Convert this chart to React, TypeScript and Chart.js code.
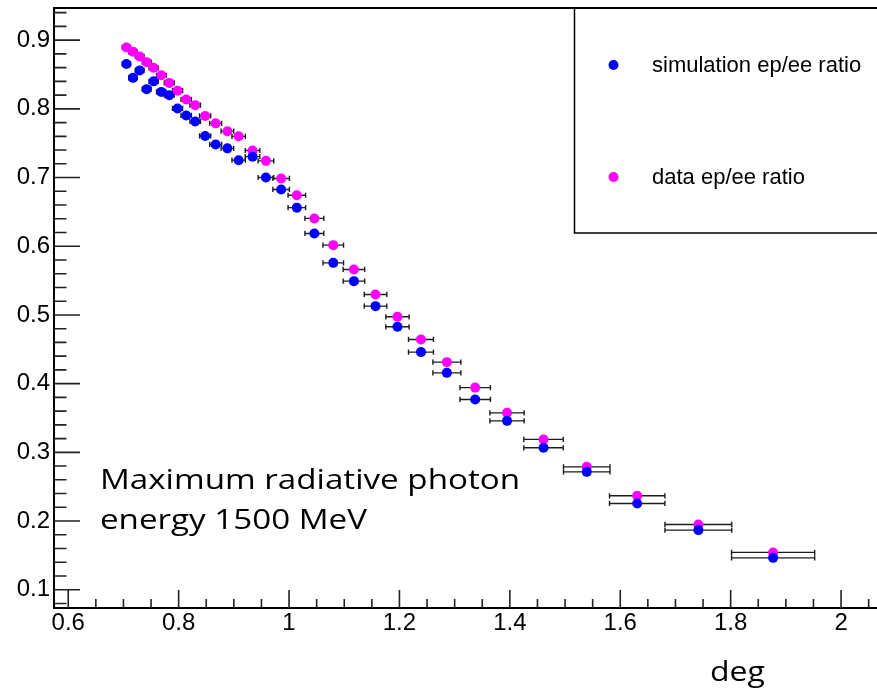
import React, { useEffect, useRef } from "react";
import { Chart, registerables } from "chart.js";

Chart.register(...registerables);

// ---- data ----
const X_CENTERS = [
  0.7054, 0.7173, 0.7294, 0.7421, 0.7547, 0.7686, 0.783, 0.798, 0.8137, 0.83,
  0.848, 0.8671, 0.8883, 0.9087, 0.9339, 0.9581, 0.9857, 1.0141, 1.0459, 1.0801,
  1.1175, 1.1567, 1.1964, 1.239, 1.2859, 1.3372, 1.3949, 1.461, 1.5393, 1.6307,
  1.7415, 1.8769,
];
const X_ERRORS = [
  0.0076, 0.0078, 0.0079, 0.0081, 0.0083, 0.0087, 0.009, 0.0092, 0.0094, 0.0096,
  0.0101, 0.0108, 0.0114, 0.0121, 0.0132, 0.0141, 0.015, 0.0159, 0.0171, 0.0186,
  0.0195, 0.0204, 0.0211, 0.0226, 0.0253, 0.0276, 0.031, 0.0357, 0.0421, 0.0502,
  0.0605, 0.0753,
];
const SIM_RATIO = [
  0.8654, 0.8451, 0.856, 0.8287, 0.84, 0.8247, 0.8199, 0.8006, 0.7904, 0.7817,
  0.7606, 0.7482, 0.7425, 0.7253, 0.7304, 0.7001, 0.6827, 0.6562, 0.6186, 0.5758,
  0.5492, 0.5128, 0.4827, 0.4459, 0.4157, 0.377, 0.3458, 0.3066, 0.2716, 0.2256,
  0.1868, 0.1464,
];
const DATA_RATIO = [
  0.8894, 0.883, 0.8763, 0.868, 0.8597, 0.8488, 0.8378, 0.8265, 0.8137, 0.8054,
  0.7897, 0.7789, 0.7675, 0.76, 0.7394, 0.7243, 0.6987, 0.6742, 0.6405, 0.6016,
  0.5662, 0.5298, 0.4973, 0.4643, 0.4313, 0.3942, 0.3575, 0.3188, 0.2789, 0.2367,
  0.195, 0.1543,
];
const SERIES_LABELS = ["simulation ep/ee ratio", "data ep/ee ratio"];
const SERIES_COLORS = ["#0000ff", "#ff00ff"];
const X_TICKS = [0.6, 0.8, 1, 1.2, 1.4, 1.6, 1.8, 2];
const Y_TICKS = [0.1, 0.2, 0.3, 0.4, 0.5, 0.6, 0.7, 0.8, 0.9];
const X_TITLE = "deg";
const NOTE_LINES = ["Maximum radiative photon", "energy 1500 MeV"];

const X_MIN = 0.5742;
const X_MAX = 2.0796;
const Y_MIN = 0.0734;
const Y_MAX = 0.9468;
const X_MINOR_STEP = 0.05;
const Y_MINOR_STEP = 0.02;

const TICK_FONT = "'Liberation Sans', Arial, Helvetica, sans-serif";
const NOTE_FONT = "'Open Sans', Lato, sans-serif";

function minorValues(min: number, max: number, step: number): number[] {
  const out: number[] = [];
  const start = Math.ceil(min / step - 1e-9);
  for (let i = start; i * step <= max + 1e-9; i++) out.push(+(i * step).toFixed(4));
  return out;
}

const rootStyle = {
  id: "rootStyle",
  beforeDatasetsDraw(chart: any) {
    const ctx = chart.ctx as CanvasRenderingContext2D;
    const xs = chart.scales.x;
    const ys = chart.scales.y;
    ctx.save();
    ctx.strokeStyle = "#1c1c1c";
    ctx.lineWidth = 1.4;
    chart.data.datasets.forEach((ds: any) => {
      ds.data.forEach((p: any) => {
        const x1 = xs.getPixelForValue(p.x - p.ex);
        const x2 = xs.getPixelForValue(p.x + p.ex);
        const y = ys.getPixelForValue(p.y);
        ctx.beginPath();
        ctx.moveTo(x1, y);
        ctx.lineTo(x2, y);
        ctx.moveTo(x1, y - 2.6);
        ctx.lineTo(x1, y + 2.6);
        ctx.moveTo(x2, y - 2.6);
        ctx.lineTo(x2, y + 2.6);
        ctx.stroke();
      });
    });
    ctx.restore();
  },
  afterDraw(chart: any) {
    const ctx = chart.ctx as CanvasRenderingContext2D;
    const xs = chart.scales.x;
    const ys = chart.scales.y;
    const a = chart.chartArea;
    ctx.save();
    // frame
    ctx.strokeStyle = "#000";
    ctx.lineWidth = 2;
    ctx.strokeRect(a.left, a.top, a.right - a.left, a.bottom - a.top);

    // ticks (inward, ROOT style)
    ctx.lineWidth = 1.6;
    ctx.strokeStyle = "#222";
    ctx.beginPath();
    minorValues(Y_MIN, Y_MAX, Y_MINOR_STEP).forEach((v) => {
      const y = ys.getPixelForValue(v);
      ctx.moveTo(a.left, y);
      ctx.lineTo(a.left + 12.5, y);
    });
    Y_TICKS.forEach((v) => {
      const y = ys.getPixelForValue(v);
      ctx.moveTo(a.left, y);
      ctx.lineTo(a.left + 26, y);
    });
    minorValues(X_MIN, X_MAX, X_MINOR_STEP).forEach((v) => {
      const x = xs.getPixelForValue(v);
      ctx.moveTo(x, a.bottom);
      ctx.lineTo(x, a.bottom - 9);
    });
    X_TICKS.forEach((v) => {
      const x = xs.getPixelForValue(v);
      ctx.moveTo(x, a.bottom);
      ctx.lineTo(x, a.bottom - 18);
    });
    ctx.stroke();

    // legend box
    const lx = 574.5;
    const lb = 233;
    ctx.strokeStyle = "#000";
    ctx.lineWidth = 1.5;
    ctx.strokeRect(lx, a.top, chart.width + 10 - lx, lb - a.top);
    const entryY = [65, 177];
    chart.data.datasets.forEach((ds: any, i: number) => {
      ctx.fillStyle = ds.backgroundColor;
      ctx.beginPath();
      ctx.arc(613.5, entryY[i], 5, 0, Math.PI * 2);
      ctx.fill();
      ctx.fillStyle = "#000";
      ctx.font = `22px ${TICK_FONT}`;
      ctx.textBaseline = "alphabetic";
      ctx.textAlign = "left";
      ctx.fillText(ds.label, 652, entryY[i] + 6.5);
    });

    // annotation text (slightly wide lettering, as in the reference)
    ctx.fillStyle = "#000";
    ctx.textAlign = "left";
    ctx.textBaseline = "alphabetic";
    ctx.font = `28px ${NOTE_FONT}`;
    const w2 = ctx.measureText(NOTE_LINES[1]).width;
    const sx = 267 / w2;
    const w1 = ctx.measureText(NOTE_LINES[0]).width;
    const extra = Math.max(0, (413 / sx - w1) / 2);
    ctx.save();
    ctx.translate(100, 488.5);
    ctx.scale(sx, 1);
    (ctx as any).wordSpacing = `${extra.toFixed(1)}px`;
    ctx.fillText(NOTE_LINES[0], 0, 0);
    (ctx as any).wordSpacing = "0px";
    ctx.restore();
    ctx.save();
    ctx.translate(100, 529);
    ctx.scale(sx, 1);
    ctx.fillText(NOTE_LINES[1], 0, 0);
    ctx.restore();

    // axis title
    ctx.save();
    ctx.font = `27px ${NOTE_FONT}`;
    ctx.textAlign = "center";
    ctx.translate(737.5, 680.5);
    ctx.scale(sx, 1);
    ctx.fillText(X_TITLE, 0, 0);
    ctx.restore();
    ctx.restore();
  },
};

export default function App() {
  const ref = useRef<HTMLCanvasElement>(null);
  useEffect(() => {
    if (!ref.current) return;
    const sim = X_CENTERS.map((x, i) => ({ x, y: SIM_RATIO[i], ex: X_ERRORS[i] }));
    const dat = X_CENTERS.map((x, i) => ({ x, y: DATA_RATIO[i], ex: X_ERRORS[i] }));
    const chart = new Chart(ref.current, {
      type: "scatter",
      data: {
        datasets: [
          {
            label: SERIES_LABELS[0],
            data: sim,
            backgroundColor: SERIES_COLORS[0],
            borderColor: SERIES_COLORS[0],
            pointRadius: 5,
            borderWidth: 0,
          },
          {
            label: SERIES_LABELS[1],
            data: dat,
            backgroundColor: SERIES_COLORS[1],
            borderColor: SERIES_COLORS[1],
            pointRadius: 5,
            borderWidth: 0,
          },
        ],
      },
      options: {
        responsive: false,
        maintainAspectRatio: false,
        devicePixelRatio: 1,
        animation: false,
        layout: { padding: { top: 8, right: 2, left: 0, bottom: 0 } },
        plugins: { legend: { display: false }, tooltip: { enabled: false } },
        scales: {
          x: {
            type: "linear",
            position: "bottom",
            min: X_MIN,
            max: X_MAX,
            grid: { display: false, drawTicks: false },
            border: { display: false },
            ticks: {
              color: "#000",
              font: { family: TICK_FONT, size: 24 },
              padding: 1,
              maxRotation: 0,
              autoSkip: false,
              callback: (v: any) => String(Math.round(Number(v) * 10) / 10),
            },
            afterBuildTicks: (s: any) => {
              s.ticks = X_TICKS.map((v) => ({ value: v }));
            },
            afterFit: (s: any) => {
              s.height = 85;
              s.paddingLeft = 0;
              s.paddingRight = 0;
            },
          },
          y: {
            type: "linear",
            min: Y_MIN,
            max: Y_MAX,
            grid: { display: false, drawTicks: false },
            border: { display: false },
            ticks: {
              color: "#000",
              font: { family: TICK_FONT, size: 24 },
              padding: 4,
              autoSkip: false,
              callback: (v: any) => String(Math.round(Number(v) * 10) / 10),
            },
            afterBuildTicks: (s: any) => {
              s.ticks = Y_TICKS.map((v) => ({ value: v }));
            },
            afterFit: (s: any) => {
              s.width = 54;
              s.paddingTop = 0;
              s.paddingBottom = 0;
            },
          },
        },
      },
      plugins: [rootStyle],
    } as any);
    return () => chart.destroy();
  }, []);
  return (
    <div
      style={{
        position: "fixed",
        left: 0,
        top: 0,
        width: 877,
        height: 693,
        overflow: "hidden",
        background: "#fff",
      }}
    >
      <canvas ref={ref} width={890} height={693} style={{ display: "block", width: 890, height: 693 }} />
    </div>
  );
}
